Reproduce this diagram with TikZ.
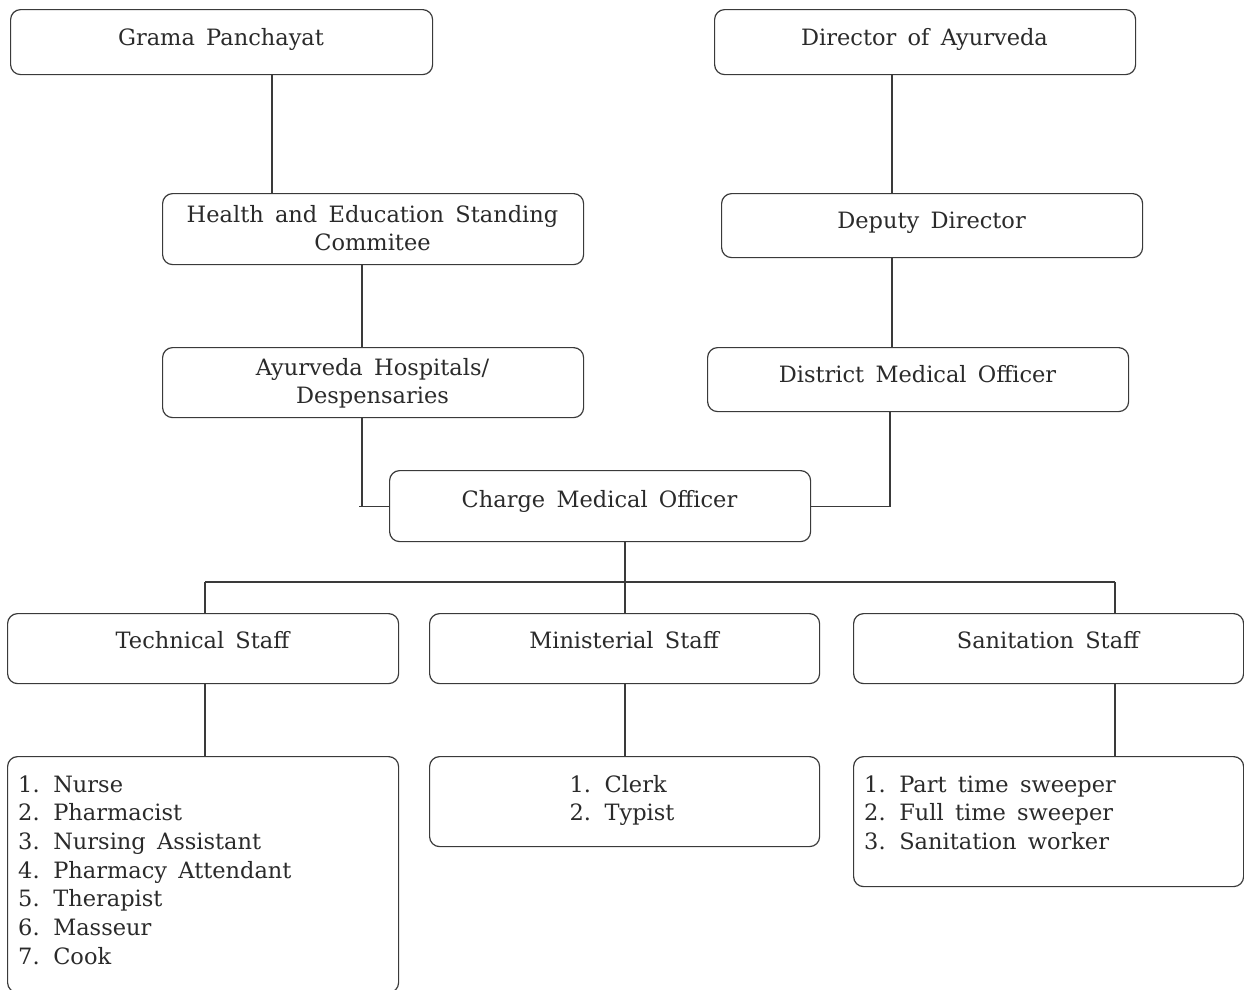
\documentclass[tikz,border=0pt]{standalone}
\usepackage{fontspec}
\setmainfont{DejaVu Serif}
\definecolor{linec}{HTML}{3A3A3A}
\definecolor{txtc}{HTML}{2A2A2A}
\newcommand{\boxfont}{\fontsize{22.5}{28.7}\selectfont\spaceskip=0.5em plus 0.1em\relax}
\begin{document}
\begin{tikzpicture}[x=1pt,y=-1pt,
  box/.style={draw=linec, line width=1.2pt, rounded corners=10pt, inner sep=0pt, anchor=north west},
  conn/.style={draw=linec, line width=1.2pt},
  lbl/.style={anchor=base, inner sep=0pt, font=\boxfont, text=txtc},
  lst/.style={anchor=base west, inner sep=0pt, font=\boxfont, text=txtc}]
\useasboundingbox (0,0) rectangle (1244,989);
% boxes
\node[box, minimum width=422pt, minimum height=65pt] (gp)  at (10,9) {};
\node[box, minimum width=421pt, minimum height=65pt] (da)  at (714,9) {};
\node[box, minimum width=421pt, minimum height=71pt] (hes) at (162,193) {};
\node[box, minimum width=421pt, minimum height=64pt] (dd)  at (721,193) {};
\node[box, minimum width=421pt, minimum height=70pt] (ahd) at (162,347) {};
\node[box, minimum width=421pt, minimum height=64pt] (dmo) at (707,347) {};
\node[box, minimum width=421pt, minimum height=71pt] (cmo) at (389,470) {};
\node[box, minimum width=391pt, minimum height=70pt] (ts)  at (7,613) {};
\node[box, minimum width=390pt, minimum height=70pt] (ms)  at (429,613) {};
\node[box, minimum width=390pt, minimum height=70pt] (ss)  at (853,613) {};
\node[box, minimum width=391pt, minimum height=236pt] (tl) at (7,756) {};
\node[box, minimum width=390pt, minimum height=90pt] (ml)  at (429,756) {};
\node[box, minimum width=390pt, minimum height=130pt] (sl) at (853,756) {};
% texts
\node[lbl] (gpt)  at (221,45)  {Grama Panchayat};
\node[lbl] (dat)  at (924.5,45) {Director of Ayurveda};
\node[lbl] (hest) at (372.5,222) {\begin{tabular}[t]{@{}c@{}}Health and Education Standing\\ Commitee\end{tabular}};
\node[lbl] (ddt)  at (931.5,228) {Deputy Director};
\node[lbl] (ahdt) at (372.5,375) {\begin{tabular}[t]{@{}c@{}}Ayurveda Hospitals/\\ Despensaries\end{tabular}};
\node[lbl] (dmot) at (917.5,382) {District Medical Officer};
\node[lbl] (cmot) at (599.5,507) {Charge Medical Officer};
\node[lbl] (tst)  at (202.5,648) {Technical Staff};
\node[lbl] (mst)  at (624,648) {Ministerial Staff};
\node[lbl] (sst)  at (1048,648) {Sanitation Staff};
\node[lst] (tlt) at (18,792) {\begin{tabular}[t]{@{}l@{}}1. Nurse\\ 2. Pharmacist\\ 3. Nursing Assistant\\ 4. Pharmacy Attendant\\ 5. Therapist\\ 6. Masseur\\ 7. Cook\end{tabular}};
\node[lbl] (mlt) at (622,792) {\begin{tabular}[t]{@{}l@{}}1. Clerk\\ 2. Typist\end{tabular}};
\node[lst] (slt) at (864,792) {\begin{tabular}[t]{@{}l@{}}1. Part time sweeper\\ 2. Full time sweeper\\ 3. Sanitation worker\end{tabular}};
% connector columns
\coordinate (xa) at (272,0);
\coordinate (xb) at (362,0);
\coordinate (xc) at (892,0);
\coordinate (xd) at (890,0);
\coordinate (xe) at (205,0);
\coordinate (xf) at (625,0);
\coordinate (xg) at (1115,0);
\coordinate (busy) at (0,582);
% connectors
\draw[conn] (gp.south -| xa) -- (hes.north -| xa);
\draw[conn] (hes.south -| xb) -- (ahd.north -| xb);
\draw[conn] (da.south -| xc) -- (dd.north -| xc);
\draw[conn] (dd.south -| xc) -- (dmo.north -| xc);
\draw[conn] (ahd.south -| xb) -- (cmo.west -| xb);
\draw[conn] (cmo.west) -- ++(-30,0);
\draw[conn] (dmo.south -| xd) |- (cmo.east);
\draw[conn] (cmo.south -| xf) -- (busy -| xf);
\draw[conn] (busy -| xe) -- (busy -| xg);
\draw[conn] (busy -| xe) -- (ts.north -| xe);
\draw[conn] (busy -| xf) -- (ms.north -| xf);
\draw[conn] (busy -| xg) -- (ss.north -| xg);
\draw[conn] (ts.south -| xe) -- (tl.north -| xe);
\draw[conn] (ms.south -| xf) -- (ml.north -| xf);
\draw[conn] (ss.south -| xg) -- (sl.north -| xg);
\end{tikzpicture}
\end{document}
